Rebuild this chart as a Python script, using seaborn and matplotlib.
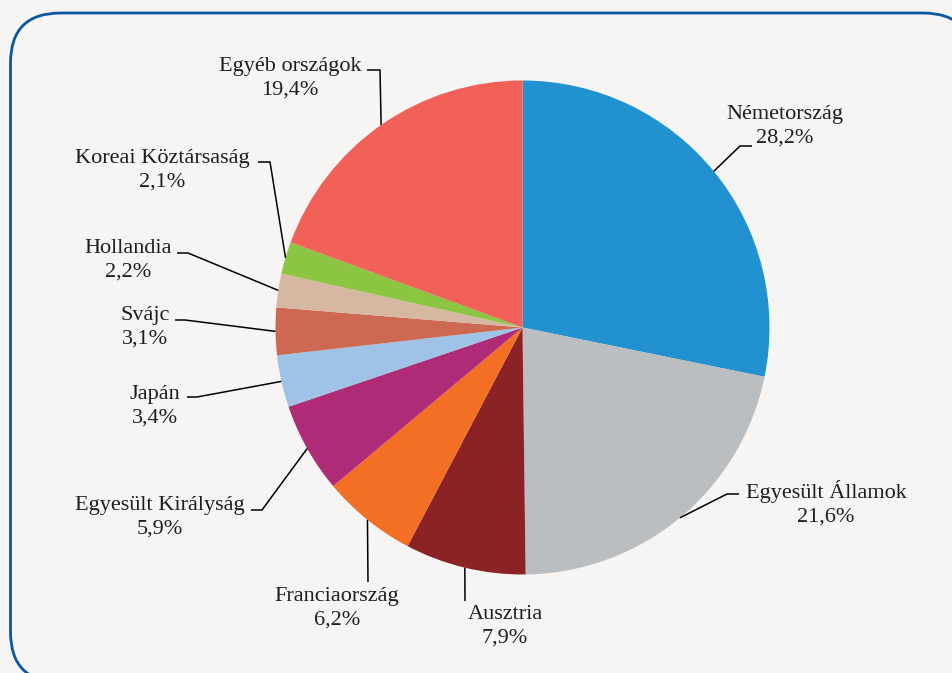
import matplotlib.pyplot as plt
import seaborn as sns
import numpy as np
from matplotlib.patches import FancyBboxPatch

countries = ['Németország', 'Egyesült Államok', 'Ausztria', 'Franciaország',
             'Egyesült Királyság', 'Japán', 'Svájc', 'Hollandia',
             'Koreai Köztársaság', 'Egyéb országok']
shares = [28.2, 21.6, 7.9, 6.2, 5.9, 3.4, 3.1, 2.2, 2.1, 19.4]
colors = ['#2291D0', '#BABEC1', '#8B2326', '#F36F23', '#B02B77',
          '#9EC3E6', '#CD6952', '#D6B7A1', '#8BC541', '#F26158']

# layout in pixels: centre of each label block, elbow of its leader line, stub length
label_px = [(785, 126), (826, 503), (505, 626), (337, 608), (160, 517),
            (155, 406), (145, 327), (128, 260), (162, 170), (290, 78)]
elbow_px = [(740, 146), (727, 494), (465, 601), (368, 582), (262, 510),
            (197, 397), (185, 320), (188, 253), (270, 162), (380, 70)]
stub_px = [12, 12, 0, 0, -11, -10, -10, -11, -12, -13]

W, H = 953, 673
CX, CY, R = 522.5, 327.5, 247.0
BG = '#F6F5F3'


def px(x, y):
    """Pixel position -> data coordinates (pie radius = 1)."""
    return (x - CX) / R, (CY - y) / R


def plot_share_pie():
    sns.set_style('white')
    plt.rcParams['font.family'] = ['Liberation Serif', 'DejaVu Serif']

    fig = plt.figure(figsize=(W / 100, H / 100), dpi=100, facecolor=BG)
    ax = fig.add_axes([0, 0, 1, 1])
    ax.set_facecolor(BG)

    wedges, _ = ax.pie(shares, colors=colors, startangle=90, counterclock=False,
                       radius=1, center=(0, 0), wedgeprops=dict(linewidth=0))

    for w, name, share, lab, elb, stub in zip(wedges, countries, shares,
                                              label_px, elbow_px, stub_px):
        mid = np.deg2rad((w.theta1 + w.theta2) / 2)
        edge = (np.cos(mid), np.sin(mid))
        ex, ey = px(*elb)
        sx, sy = px(elb[0] + stub, elb[1])
        ax.plot([edge[0], ex, sx], [edge[1], ey, sy], color='black', lw=1.1,
                solid_capstyle='butt', solid_joinstyle='miter')
        tx, ty = px(*lab)
        label = f'{name}\n{share:.1f}%'.replace('.', ',')
        ax.text(tx, ty, label, ha='center', va='center', fontsize=16,
                linespacing=1.32, color='#1E1E1E')

    # rounded frame (right side runs off the canvas); filled with the background
    # colour and kept underneath so the outline is not clipped oddly
    x0, y0 = px(10.5, 682)
    frame = FancyBboxPatch((x0, y0), (973 - 10.5) / R, (682 - 13) / R,
                           boxstyle=f'round,pad=0,rounding_size={50 / R}',
                           facecolor=BG, edgecolor='#0B58A0', lw=2.0,
                           zorder=0)
    ax.add_patch(frame)

    ax.set_xlim(-CX / R, (W - CX) / R)
    ax.set_ylim((CY - H) / R, CY / R)
    ax.axis('off')
    fig.savefig('out.png', dpi=100, facecolor=BG)


plot_share_pie()
